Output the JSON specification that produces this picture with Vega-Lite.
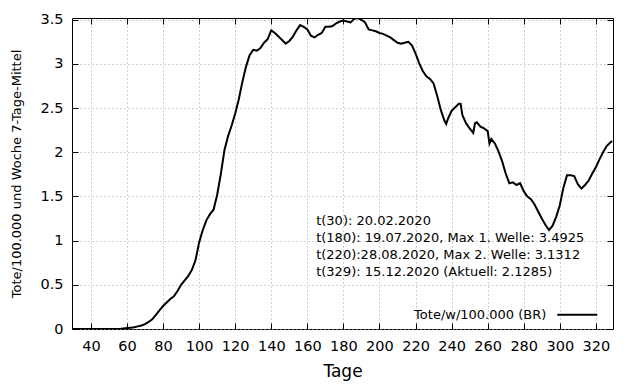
{
  "$schema": "https://vega.github.io/schema/vega-lite/v6.json",
  "width": 541,
  "height": 311,
  "autosize": "none",
  "padding": {"left": 72, "top": 18, "right": 27, "bottom": 55},
  "config": {
    "font": "DejaVu Sans",
    "view": {"stroke": "black", "strokeWidth": 1},
    "axis": {
      "domain": false,
      "labelFont": "DejaVu Sans",
      "labelFontSize": 14.5,
      "labelColor": "black",
      "titleFont": "DejaVu Sans",
      "titleFontWeight": "normal",
      "titleColor": "black",
      "tickColor": "black",
      "tickSize": -6,
      "tickWidth": 1,
      "gridColor": "#a0a0a0",
      "gridDash": [1, 3],
      "gridWidth": 1,
      "gridOpacity": 1
    }
  },
  "datasets": {
    "series": [
      {"t": 30, "v": 0}, {"t": 40, "v": 0}, {"t": 50, "v": 0}, {"t": 56, "v": 0},
      {"t": 58, "v": 0.005}, {"t": 60, "v": 0.01}, {"t": 62, "v": 0.015}, {"t": 64, "v": 0.02},
      {"t": 66, "v": 0.03}, {"t": 68, "v": 0.04}, {"t": 70, "v": 0.055}, {"t": 72, "v": 0.08},
      {"t": 74, "v": 0.11}, {"t": 76, "v": 0.16}, {"t": 78, "v": 0.21}, {"t": 80, "v": 0.26},
      {"t": 82, "v": 0.3}, {"t": 84, "v": 0.34}, {"t": 86, "v": 0.37}, {"t": 88, "v": 0.43},
      {"t": 90, "v": 0.5}, {"t": 92, "v": 0.55}, {"t": 94, "v": 0.6}, {"t": 96, "v": 0.67},
      {"t": 98, "v": 0.78}, {"t": 99, "v": 0.88}, {"t": 100, "v": 0.98}, {"t": 102, "v": 1.12},
      {"t": 104, "v": 1.23}, {"t": 106, "v": 1.3}, {"t": 108, "v": 1.35}, {"t": 110, "v": 1.52},
      {"t": 112, "v": 1.75}, {"t": 114, "v": 2.02}, {"t": 116, "v": 2.18}, {"t": 118, "v": 2.3},
      {"t": 120, "v": 2.44}, {"t": 122, "v": 2.6}, {"t": 124, "v": 2.8}, {"t": 126, "v": 2.97},
      {"t": 128, "v": 3.1}, {"t": 130, "v": 3.16}, {"t": 132, "v": 3.15}, {"t": 134, "v": 3.18},
      {"t": 136, "v": 3.24}, {"t": 138, "v": 3.28}, {"t": 140, "v": 3.38}, {"t": 142, "v": 3.35},
      {"t": 144, "v": 3.31}, {"t": 146, "v": 3.27}, {"t": 148, "v": 3.23}, {"t": 150, "v": 3.26},
      {"t": 152, "v": 3.31}, {"t": 154, "v": 3.38}, {"t": 156, "v": 3.44}, {"t": 158, "v": 3.42},
      {"t": 160, "v": 3.39}, {"t": 162, "v": 3.32}, {"t": 164, "v": 3.3}, {"t": 166, "v": 3.33},
      {"t": 168, "v": 3.35}, {"t": 170, "v": 3.42}, {"t": 172, "v": 3.42}, {"t": 174, "v": 3.43},
      {"t": 176, "v": 3.46}, {"t": 178, "v": 3.48}, {"t": 180, "v": 3.4925}, {"t": 182, "v": 3.48},
      {"t": 184, "v": 3.47}, {"t": 186, "v": 3.51}, {"t": 188, "v": 3.52}, {"t": 190, "v": 3.5},
      {"t": 192, "v": 3.47}, {"t": 194, "v": 3.39}, {"t": 196, "v": 3.38}, {"t": 198, "v": 3.37},
      {"t": 200, "v": 3.35}, {"t": 202, "v": 3.34}, {"t": 204, "v": 3.32}, {"t": 206, "v": 3.3},
      {"t": 208, "v": 3.27}, {"t": 210, "v": 3.24}, {"t": 212, "v": 3.23}, {"t": 214, "v": 3.24},
      {"t": 216, "v": 3.25}, {"t": 218, "v": 3.21}, {"t": 220, "v": 3.12}, {"t": 222, "v": 3.01},
      {"t": 224, "v": 2.92}, {"t": 226, "v": 2.86}, {"t": 228, "v": 2.83}, {"t": 230, "v": 2.78},
      {"t": 232, "v": 2.64}, {"t": 234, "v": 2.48}, {"t": 236, "v": 2.36}, {"t": 237, "v": 2.32},
      {"t": 238, "v": 2.38}, {"t": 240, "v": 2.47}, {"t": 242, "v": 2.51}, {"t": 244, "v": 2.55},
      {"t": 245, "v": 2.55}, {"t": 246, "v": 2.42}, {"t": 248, "v": 2.33}, {"t": 250, "v": 2.27},
      {"t": 252, "v": 2.22}, {"t": 253, "v": 2.33}, {"t": 254, "v": 2.34}, {"t": 256, "v": 2.29},
      {"t": 258, "v": 2.27}, {"t": 260, "v": 2.24}, {"t": 261, "v": 2.1}, {"t": 262, "v": 2.15},
      {"t": 264, "v": 2.1}, {"t": 266, "v": 2.01}, {"t": 268, "v": 1.9}, {"t": 270, "v": 1.76},
      {"t": 272, "v": 1.65}, {"t": 274, "v": 1.66}, {"t": 276, "v": 1.63}, {"t": 278, "v": 1.65},
      {"t": 280, "v": 1.56}, {"t": 282, "v": 1.5}, {"t": 284, "v": 1.47}, {"t": 286, "v": 1.41},
      {"t": 288, "v": 1.33}, {"t": 290, "v": 1.25}, {"t": 292, "v": 1.18}, {"t": 294, "v": 1.12},
      {"t": 296, "v": 1.17}, {"t": 298, "v": 1.27}, {"t": 300, "v": 1.4}, {"t": 302, "v": 1.6},
      {"t": 304, "v": 1.74}, {"t": 306, "v": 1.74}, {"t": 308, "v": 1.73}, {"t": 310, "v": 1.64},
      {"t": 312, "v": 1.59}, {"t": 314, "v": 1.63}, {"t": 316, "v": 1.68}, {"t": 318, "v": 1.76},
      {"t": 320, "v": 1.83}, {"t": 322, "v": 1.92}, {"t": 324, "v": 2.0}, {"t": 326, "v": 2.07},
      {"t": 328, "v": 2.11}, {"t": 329, "v": 2.1285}
    ]
  },
  "resolve": {"axis": {"x": "independent", "y": "independent"}},
  "layer": [
    {
      "data": {"name": "series"},
      "mark": {"type": "line", "color": "black", "strokeWidth": 2, "clip": true},
      "encoding": {
        "x": {
          "field": "t", "type": "quantitative",
          "scale": {"domain": [29.5, 329.5], "nice": false, "zero": false},
          "axis": {
            "orient": "bottom",
            "values": [40, 60, 80, 100, 120, 140, 160, 180, 200, 220, 240, 260, 280, 300, 320],
            "grid": true,
            "labelPadding": 16,
            "title": "Tage",
            "titleFontSize": 17,
            "titlePadding": 11
          }
        },
        "y": {
          "field": "v", "type": "quantitative",
          "scale": {"domain": [0, 3.52], "nice": false, "zero": false},
          "axis": {
            "orient": "left",
            "values": [0, 0.5, 1, 1.5, 2, 2.5, 3, 3.5],
            "format": "~g",
            "grid": true,
            "labelPadding": 15,
            "title": "Tote/100.000 und Woche 7-Tage-Mittel",
            "titleFontSize": 13,
            "titlePadding": 16
          }
        }
      }
    },
    {
      "data": {"name": "series"},
      "mark": {"type": "line", "opacity": 0},
      "encoding": {
        "x": {
          "field": "t", "type": "quantitative",
          "axis": {
            "orient": "top",
            "values": [40, 60, 80, 100, 120, 140, 160, 180, 200, 220, 240, 260, 280, 300, 320],
            "labels": false, "grid": false, "title": null
          }
        },
        "y": {
          "field": "v", "type": "quantitative",
          "axis": {
            "orient": "right",
            "values": [0, 0.5, 1, 1.5, 2, 2.5, 3, 3.5],
            "labels": false, "grid": false, "title": null
          }
        }
      }
    },
    {
      "data": {"values": [{}]},
      "mark": {
        "type": "text",
        "text": ["t(30): 20.02.2020", "t(180): 19.07.2020, Max 1. Welle: 3.4925", "t(220):28.08.2020, Max 2. Welle: 3.1312", "t(329): 15.12.2020 (Aktuell: 2.1285)"],
        "align": "left", "baseline": "alphabetic", "lineHeight": 17,
        "fontSize": 13, "font": "DejaVu Sans", "color": "black"
      },
      "encoding": {
        "x": {"datum": 164.9, "type": "quantitative", "axis": null},
        "y": {"datum": 1.172, "type": "quantitative", "axis": null}
      }
    },
    {
      "data": {"values": [{}]},
      "mark": {
        "type": "text", "text": "Tote/w/100.000 (BR)",
        "align": "right", "baseline": "alphabetic",
        "fontSize": 13, "font": "DejaVu Sans", "color": "black"
      },
      "encoding": {
        "x": {"datum": 292.5, "type": "quantitative", "axis": null},
        "y": {"datum": 0.111, "type": "quantitative", "axis": null}
      }
    },
    {
      "data": {"values": [{}]},
      "mark": {"type": "rule", "color": "black", "strokeWidth": 2},
      "encoding": {
        "x": {"datum": 298.6, "type": "quantitative", "axis": null},
        "x2": {"datum": 320.8},
        "y": {"datum": 0.161, "type": "quantitative", "axis": null}
      }
    }
  ]
}
